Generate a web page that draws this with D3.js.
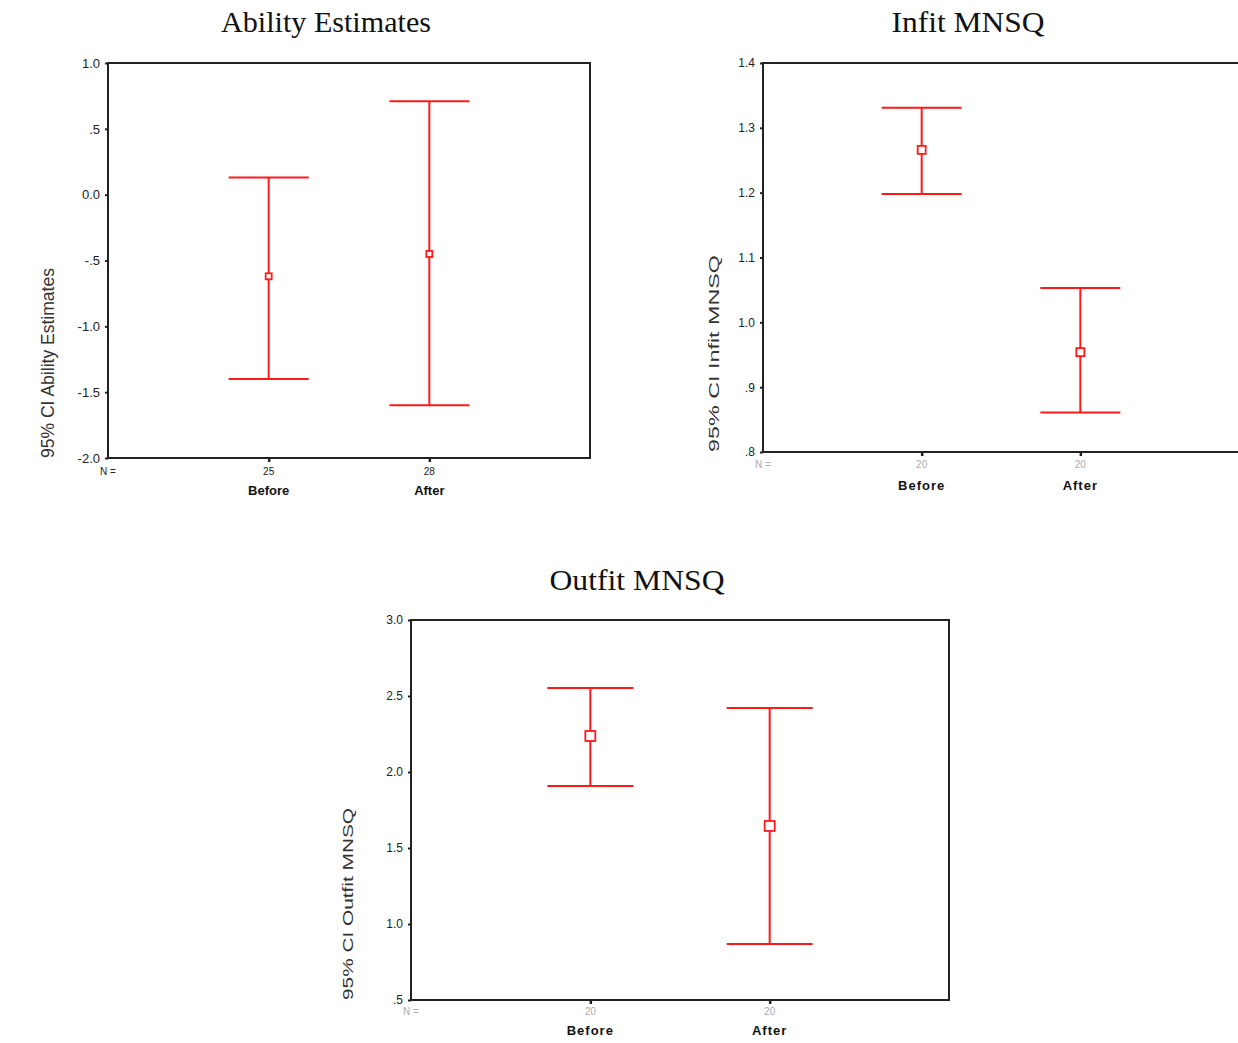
<!DOCTYPE html>
<html>
<head>
<meta charset="utf-8">
<script src="https://cdn.jsdelivr.net/npm/d3@7"></script>
<style>
  body { margin: 0; background: #fff; }
  svg { display: block; }
</style>
</head>
<body>
<script>
// groups shared by all three panels
const groups = ["Before", "After"];

// Ability Estimates
const abilityMean  = [-0.62, -0.45];
const abilityLower = [-1.40, -1.60];
const abilityUpper = [0.13, 0.71];
const abilityN     = ["25", "28"];
const abilityTicks = [1.0, 0.5, 0.0, -0.5, -1.0, -1.5, -2.0];
const abilityTickLabels = ["1.0", ".5", "0.0", "-.5", "-1.0", "-1.5", "-2.0"];

// Infit MNSQ
const infitMean  = [1.266, 0.954];
const infitLower = [1.198, 0.861];
const infitUpper = [1.331, 1.053];
const infitN     = ["20", "20"];
const infitTicks = [1.4, 1.3, 1.2, 1.1, 1.0, 0.9, 0.8];
const infitTickLabels = ["1.4", "1.3", "1.2", "1.1", "1.0", ".9", ".8"];

// Outfit MNSQ
const outfitMean  = [2.237, 1.645];
const outfitLower = [1.908, 0.868];
const outfitUpper = [2.553, 2.421];
const outfitN     = ["20", "20"];
const outfitTicks = [3.0, 2.5, 2.0, 1.5, 1.0, 0.5];
const outfitTickLabels = ["3.0", "2.5", "2.0", "1.5", "1.0", ".5"];

const svg = d3.select("body").append("svg")
  .attr("width", 1238)
  .attr("height", 1043);

/**
 * Draw one error bar panel (SPSS style 95% CI plot)
 */
function drawPanel(p) {
  const x = d3.scalePoint().domain(groups).range([p.left, p.right]).padding(1);
  const y = d3.scaleLinear().domain([p.ticks[p.ticks.length - 1], p.ticks[0]])
    .range([p.bottom, p.top]);

  const g = svg.append("g");

  // title
  g.append("text")
    .attr("x", p.titleX).attr("y", p.titleY)
    .attr("text-anchor", "middle")
    .attr("textLength", p.titleLen)
    .attr("lengthAdjust", "spacingAndGlyphs")
    .style("font-family", "'Liberation Serif', 'DejaVu Serif', serif")
    .style("font-size", "30px")
    .attr("fill", "#111")
    .text(p.title);

  // y axis ticks
  const yAxis = d3.axisLeft(y)
    .tickValues(p.ticks)
    .tickSize(3)
    .tickPadding(5)
    .tickFormat((d, i) => p.tickLabels[i]);

  const ya = g.append("g")
    .attr("transform", `translate(${p.left},0)`)
    .call(yAxis);
  ya.select(".domain").remove();
  ya.selectAll("line").attr("stroke", "#222").attr("stroke-width", 2);
  ya.selectAll("text")
    .style("font-family", "'Liberation Sans', Arial, sans-serif")
    .style("font-size", p.tickFont)
    .attr("fill", "#222");

  // x axis ticks (below the frame)
  const xAxis = d3.axisBottom(x).tickSize(4).tickFormat("");
  const xa = g.append("g")
    .attr("transform", `translate(0,${p.bottom})`)
    .call(xAxis);
  xa.select(".domain").remove();
  xa.selectAll("line").attr("stroke", "#222").attr("stroke-width", 2.5);

  // frame
  g.append("rect")
    .attr("x", p.left).attr("y", p.top)
    .attr("width", p.right - p.left).attr("height", p.bottom - p.top)
    .attr("fill", "none")
    .attr("stroke", "#222")
    .attr("stroke-width", 2);

  // N = row
  g.append("text")
    .attr("x", p.left - 8).attr("y", p.nY)
    .style("font-family", "'Liberation Sans', Arial, sans-serif")
    .style("font-size", "10px")
    .attr("fill", p.nColor)
    .text("N =");
  g.selectAll(".ncount").data(groups).enter().append("text")
    .attr("x", d => x(d)).attr("y", p.nY)
    .attr("text-anchor", "middle")
    .style("font-family", "'Liberation Sans', Arial, sans-serif")
    .style("font-size", "10px")
    .attr("fill", p.nColor)
    .text((d, i) => p.n[i]);

  // category labels
  g.selectAll(".cat").data(groups).enter().append("text")
    .attr("x", d => x(d)).attr("y", p.catY)
    .attr("text-anchor", "middle")
    .style("font-family", "'Liberation Sans', Arial, sans-serif")
    .style("font-size", "13px")
    .style("font-weight", "bold")
    .style("letter-spacing", p.catSpacing)
    .attr("fill", "#111")
    .text(d => d);

  // y axis title
  g.append("text")
    .attr("transform", `translate(${p.labelX},${p.bottom}) rotate(-90)`)
    .attr("text-anchor", "start")
    .attr("dy", "0.35em")
    .attr("textLength", p.labelLen)
    .attr("lengthAdjust", "spacingAndGlyphs")
    .style("font-family", "'Liberation Sans', Arial, sans-serif")
    .style("font-size", p.labelFont)
    .style("font-weight", p.labelWeight)
    .attr("fill", "#333")
    .text(p.label);

  // error bars
  const rows = groups.map((d, i) => ({ g: d, mean: p.mean[i], lo: p.lower[i], hi: p.upper[i] }));
  const bars = g.selectAll(".bar").data(rows).enter().append("g");

  bars.append("line")
    .attr("x1", d => x(d.g)).attr("x2", d => x(d.g))
    .attr("y1", d => y(d.hi)).attr("y2", d => y(d.lo))
    .attr("stroke", "#ff1a1a").attr("stroke-width", 2);

  bars.append("line")
    .attr("x1", d => x(d.g) - p.cap).attr("x2", d => x(d.g) + p.cap)
    .attr("y1", d => y(d.hi)).attr("y2", d => y(d.hi))
    .attr("stroke", "#ff1a1a").attr("stroke-width", 2);

  bars.append("line")
    .attr("x1", d => x(d.g) - p.cap).attr("x2", d => x(d.g) + p.cap)
    .attr("y1", d => y(d.lo)).attr("y2", d => y(d.lo))
    .attr("stroke", "#ff1a1a").attr("stroke-width", 2);

  bars.append("rect")
    .attr("x", d => x(d.g) - p.box / 2).attr("y", d => y(d.mean) - p.box / 2)
    .attr("width", p.box).attr("height", p.box)
    .attr("fill", "#fff")
    .attr("stroke", "#ff1a1a").attr("stroke-width", 1.8);
}

drawPanel({
  title: "Ability Estimates", titleX: 326, titleY: 32, titleLen: 210,
  left: 108, right: 590, top: 63, bottom: 458,
  ticks: abilityTicks, tickLabels: abilityTickLabels, tickFont: "13px",
  mean: abilityMean, lower: abilityLower, upper: abilityUpper, n: abilityN,
  nY: 475, nColor: "#222", catY: 495, catSpacing: "0px",
  label: "95% CI Ability Estimates", labelX: 48, labelLen: 190, labelFont: "18px", labelWeight: "normal",
  cap: 40, box: 6
});

drawPanel({
  title: "Infit MNSQ", titleX: 968, titleY: 32, titleLen: 153,
  left: 763, right: 1239, top: 63, bottom: 452,
  ticks: infitTicks, tickLabels: infitTickLabels, tickFont: "12px",
  mean: infitMean, lower: infitLower, upper: infitUpper, n: infitN,
  nY: 468, nColor: "#aaa", catY: 490, catSpacing: "1px",
  label: "95% CI Infit MNSQ", labelX: 714, labelLen: 197, labelFont: "15px", labelWeight: "normal",
  cap: 40, box: 8
});

drawPanel({
  title: "Outfit MNSQ", titleX: 637, titleY: 590, titleLen: 175,
  left: 411, right: 949, top: 620, bottom: 1000,
  ticks: outfitTicks, tickLabels: outfitTickLabels, tickFont: "12px",
  mean: outfitMean, lower: outfitLower, upper: outfitUpper, n: outfitN,
  nY: 1015, nColor: "#aaa", catY: 1035, catSpacing: "1px",
  label: "95% CI Outfit MNSQ", labelX: 348, labelLen: 192, labelFont: "15px", labelWeight: "normal",
  cap: 43, box: 10
});
</script>
</body>
</html>
